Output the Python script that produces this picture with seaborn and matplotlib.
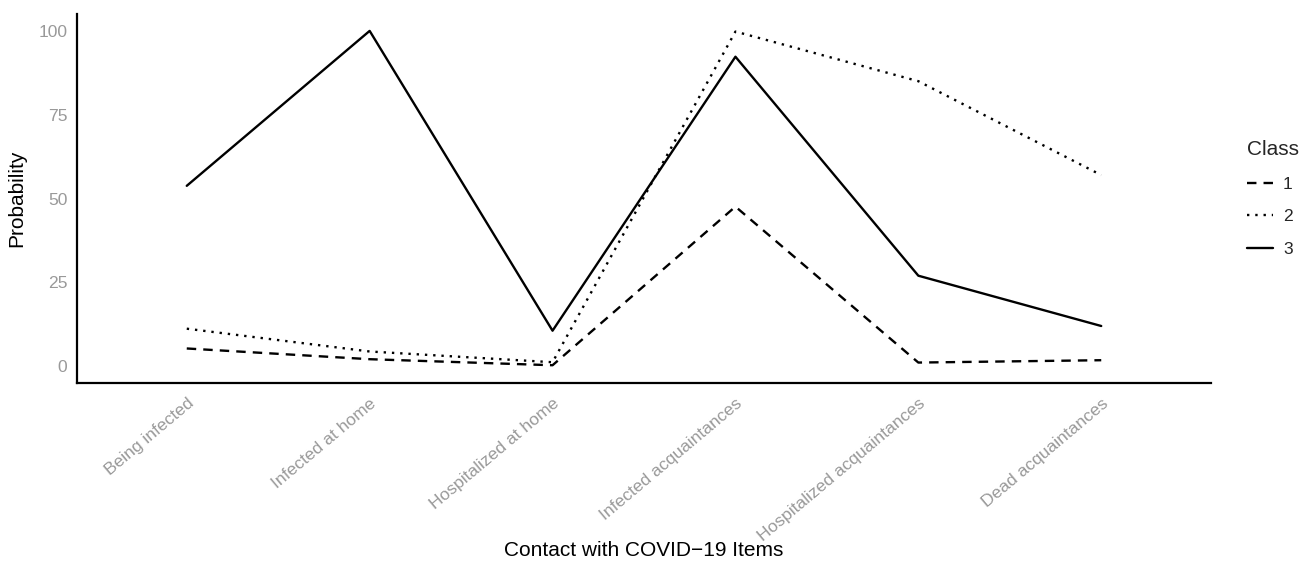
import pandas as pd
import matplotlib
matplotlib.use('Agg')
import matplotlib.pyplot as plt
import seaborn as sns

sns.set_style("white")
plt.rcParams['font.family'] = ['Liberation Sans', 'DejaVu Sans']

# ── 数据 ──
items = ['Being infected', 'Infected at home', 'Hospitalized at home',
         'Infected acquaintances', 'Hospitalized acquaintances', 'Dead acquaintances']
class_1 = [5.3, 2.1, 0.3, 47.6, 1.1, 1.8]
class_2 = [11.2, 4.4, 1.2, 99.8, 85.0, 57.0]
class_3 = [53.8, 100.0, 10.6, 92.3, 27.0, 12.0]
y_ticks = [0, 25, 50, 75, 100]

df = pd.DataFrame({
    'Item': items * 3,
    'Probability': class_1 + class_2 + class_3,
    'Class': ['1'] * 6 + ['2'] * 6 + ['3'] * 6,
})
df['x'] = df['Item'].map({k: i for i, k in enumerate(items)})

fig = plt.figure(figsize=(13.01, 5.65), dpi=100)
ax = fig.add_axes([0.0592, 0.3221, 0.8716, 0.6529])

sns.lineplot(data=df, x='x', y='Probability', style='Class',
             dashes={'1': (4, 3), '2': (1, 2.5), '3': ''},
             color='black', linewidth=1.7, ax=ax, legend=True)

ax.set_xlim(-0.6, 5.6)
ax.set_ylim(-5, 105)
ax.set_yticks(y_ticks)
ax.set_xticks(range(len(items)))
ax.set_xticklabels(items, rotation=40, ha='right', rotation_mode='anchor')
ax.tick_params(axis='both', length=0, labelsize=12.6, colors='#999999', pad=7)
ax.tick_params(axis='x', pad=9)
ax.set_xlabel('')
fig.text(0.495, 0.0265, 'Contact with COVID\u221219 Items', fontsize=15,
         color='black', ha='center', va='center')
ax.set_ylabel('Probability', fontsize=15, color='black', labelpad=9)

for side in ['top', 'right']:
    ax.spines[side].set_visible(False)
for side in ['left', 'bottom']:
    ax.spines[side].set_color('black')
    ax.spines[side].set_linewidth(1.6)

leg = ax.legend(title='Class', loc='center left', bbox_to_anchor=(1.018, 0.50),
                frameon=False, fontsize=12.6, title_fontsize=15,
                handlelength=1.45, labelspacing=1.0, handletextpad=0.6)
leg._legend_box.align = 'left'
for line in leg.get_lines():
    line.set_linewidth(1.7)

fig.savefig('out.png', dpi=100)
plt.close()
